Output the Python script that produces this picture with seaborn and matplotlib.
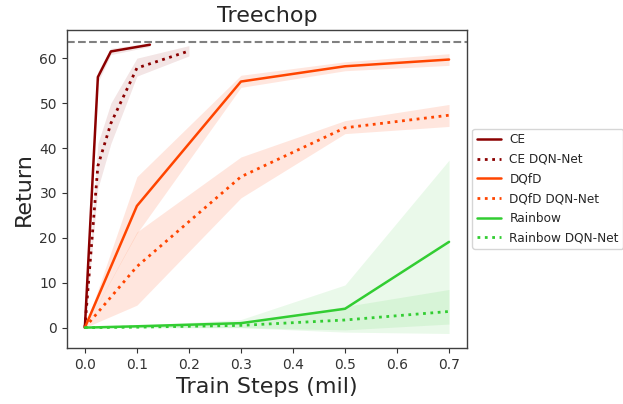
import matplotlib
matplotlib.use("Agg")
import matplotlib.pyplot as plt
import seaborn as sns

# Train steps (mil) and returns for each agent
ce_x = [0, 0.025, 0.05, 0.125]
ce_y = [0, 55.8, 61.5, 63.0]
ce_lo = [0, 54.6, 60.8, 62.6]
ce_hi = [0, 57.0, 62.2, 63.4]

ce_dqn_x = [0, 0.025, 0.05, 0.1, 0.2]
ce_dqn_y = [0, 36.0, 45.5, 57.8, 61.6]
ce_dqn_lo = [0, 31.0, 41.0, 56.0, 60.5]
ce_dqn_hi = [0, 41.0, 50.0, 60.0, 62.8]

steps = [0, 0.1, 0.3, 0.5, 0.7]
dqfd_y = [0, 27.1, 54.8, 58.2, 59.7]
dqfd_lo = [0, 21.0, 53.5, 57.2, 58.4]
dqfd_hi = [0, 33.6, 56.2, 59.2, 61.0]

dqfd_dqn_y = [0, 13.6, 33.6, 44.5, 47.3]
dqfd_dqn_lo = [0, 5.0, 28.9, 43.2, 44.8]
dqfd_dqn_hi = [0, 21.3, 38.0, 46.1, 49.7]

rainbow_y = [0, 0.3, 1.0, 4.2, 19.1]
rainbow_lo = [0, 0, 0, -1.0, -1.3]
rainbow_hi = [0, 0.5, 1.8, 9.5, 37.3]

rainbow_dqn_y = [0, 0.1, 0.5, 1.7, 3.6]
rainbow_dqn_lo = [0, 0, 0, -0.5, 0.8]
rainbow_dqn_hi = [0, 0.2, 1.0, 4.7, 8.5]

expert_return = 63.6

series = [
    ("CE", ce_x, ce_y, ce_lo, ce_hi, "darkred", "-", 0.10),
    ("CE DQN-Net", ce_dqn_x, ce_dqn_y, ce_dqn_lo, ce_dqn_hi, "darkred", ":", 0.10),
    ("DQfD", steps, dqfd_y, dqfd_lo, dqfd_hi, "orangered", "-", 0.13),
    ("DQfD DQN-Net", steps, dqfd_dqn_y, dqfd_dqn_lo, dqfd_dqn_hi, "orangered", ":", 0.13),
    ("Rainbow", steps, rainbow_y, rainbow_lo, rainbow_hi, "limegreen", "-", 0.10),
    ("Rainbow DQN-Net", steps, rainbow_dqn_y, rainbow_dqn_lo, rainbow_dqn_hi, "limegreen", ":", 0.10),
]

sns.set_style("ticks")
plt.rcParams["font.family"] = ["DejaVu Sans"]

fig, ax = plt.subplots(figsize=(6.23, 4.04), dpi=100)
fig.subplots_adjust(left=0.107, right=0.750, top=0.926, bottom=0.139)

for name, x, y, lo, hi, color, ls, alpha in series:
    ax.fill_between(x, lo, hi, color=color, alpha=alpha, linewidth=0)
    sns.lineplot(x=x, y=y, ax=ax, color=color, linestyle=ls,
                 linewidth=1.8 if ls == "-" else 2.0, label=name)

ax.axhline(expert_return, color="gray", linestyle="--", linewidth=1.5)

ax.set_xlim(-0.035, 0.735)
ax.set_ylim(-4.5, 66.3)
ax.set_xticks([0, 0.1, 0.2, 0.3, 0.4, 0.5, 0.6, 0.7])
ax.set_yticks([0, 10, 20, 30, 40, 50, 60])
ax.tick_params(labelsize=10, length=3.5, width=0.8, colors=".2")
for s in ax.spines.values():
    s.set_color(".25")
    s.set_linewidth(1.0)

ax.set_title("Treechop", fontsize=16)
ax.set_xlabel("Train Steps (mil)", fontsize=16)
ax.set_ylabel("Return", fontsize=16)

ax.legend(loc="center left", bbox_to_anchor=(1.004, 0.5), fontsize=8.7,
          frameon=True, handlelength=2.0, borderpad=0.35, borderaxespad=0.3,
          handletextpad=0.7, labelspacing=0.55)

fig.savefig("out.png", dpi=100)
